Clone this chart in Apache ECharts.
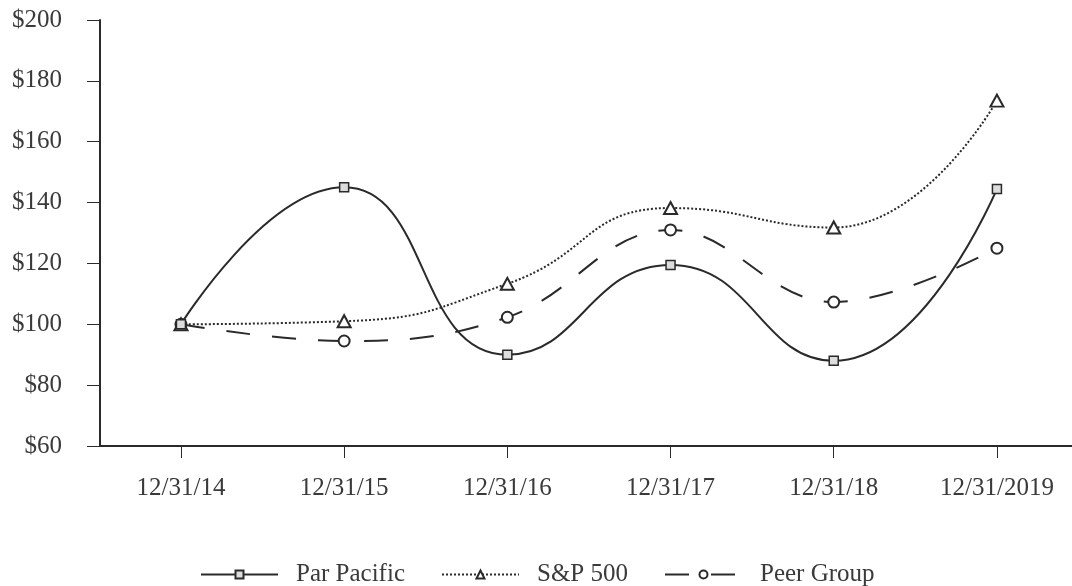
<!DOCTYPE html>
<html>
<head>
<meta charset="utf-8">
<script src="https://cdn.jsdelivr.net/npm/echarts@6/dist/echarts.min.js"></script>
<style>
  html, body { margin: 0; padding: 0; background: #fff; }
  #chart { width: 1072px; height: 586px; }
</style>
</head>
<body>
<div id="chart"></div>
<script>
// 数据
const categories = ["12/31/14", "12/31/15", "12/31/16", "12/31/17", "12/31/18", "12/31/2019"];
const parPacific = [100, 145, 90, 119.5, 88, 144.5];
const sp500 = [100, 101, 113.3, 138.2, 131.8, 173.5];
const peerGroup = [100, 94.5, 102.3, 131, 107.3, 125];

const textColor = "#3a3a3a";
const lineColor = "#2a2a2a";
const fontFamily = "'Liberation Serif', 'DejaVu Serif', serif";

// 类目索引 -> [x, y]
const catIdx = categories.map((c, i) => i);
const toPairs = (arr) => arr.map((v, i) => [catIdx[i], v]);

const myChart = echarts.init(document.getElementById("chart"));

const option = {
  backgroundColor: "#fff",
  animation: false,
  textStyle: { fontFamily: fontFamily },
  grid: {
    left: 100,
    top: 20,
    width: 972,
    height: 426,
  },
  legend: {
    left: 200,
    top: 562,
    padding: 0,
    itemWidth: 77,
    itemHeight: 10,
    itemGap: 36,
    textStyle: {
      color: textColor,
      fontSize: 25,
      fontFamily: fontFamily,
      padding: [0, 0, 0, 13],
    },
    data: ["Par Pacific", "S&P 500", "Peer Group"],
  },
  xAxis: {
    type: "value",
    // 轴线从 x=100 开始，首个类目在 x≈181
    min: -0.496,
    max: 5.46,
    axisLine: {
      show: true,
      onZero: false,
      lineStyle: { color: lineColor, width: 2 },
    },
    axisTick: {
      show: true,
      customValues: catIdx,
      length: 12,
      lineStyle: { color: lineColor, width: 1 },
    },
    axisLabel: {
      customValues: catIdx,
      color: textColor,
      fontSize: 25,
      fontFamily: fontFamily,
      margin: 30,
      formatter: (v) => categories[Math.round(v)],
    },
    splitLine: { show: false },
  },
  yAxis: {
    type: "value",
    min: 60,
    max: 200,
    interval: 20,
    axisLine: {
      show: true,
      onZero: false,
      lineStyle: { color: lineColor, width: 2 },
    },
    axisTick: {
      show: true,
      length: 13,
      lineStyle: { color: lineColor, width: 1 },
    },
    axisLabel: {
      color: textColor,
      fontSize: 25,
      fontFamily: fontFamily,
      margin: 38,
      formatter: "${value}",
    },
    splitLine: { show: false },
  },
  series: [
    {
      name: "Peer Group",
      type: "line",
      data: toPairs(peerGroup),
      smooth: 0.4,
      symbol: "circle",
      symbolSize: 11,
      lineStyle: { color: lineColor, width: 2, type: [24, 22] },
      itemStyle: { color: "#fff", borderColor: lineColor, borderWidth: 2 },
      z: 2,
    },
    {
      name: "S&P 500",
      type: "line",
      data: toPairs(sp500),
      smooth: 0.5,
      symbol: "triangle",
      symbolSize: [13, 12],
      lineStyle: { color: lineColor, width: 2, type: [2, 2] },
      itemStyle: { color: "#fff", borderColor: lineColor, borderWidth: 2 },
      z: 3,
    },
    {
      name: "Par Pacific",
      type: "line",
      data: toPairs(parPacific),
      smooth: 0.5,
      symbol: "rect",
      symbolSize: 9,
      lineStyle: { color: lineColor, width: 2 },
      itemStyle: { color: "#ddd", borderColor: lineColor, borderWidth: 1.5 },
      z: 4,
    },
  ],
};

myChart.setOption(option);
</script>
</body>
</html>
